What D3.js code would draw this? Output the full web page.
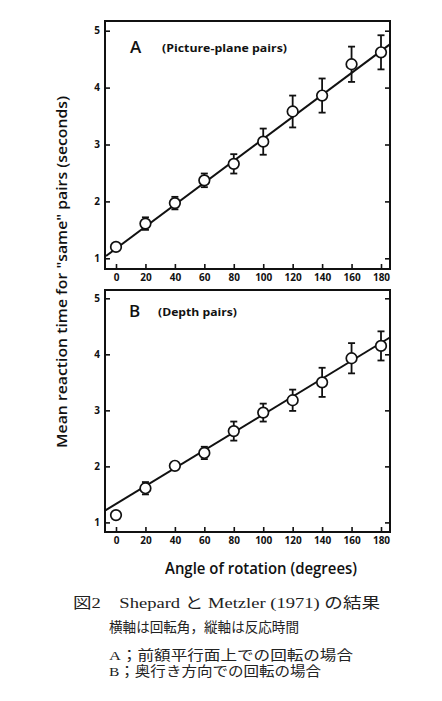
<!DOCTYPE html>
<html><head><meta charset="utf-8">
<script src="https://cdn.jsdelivr.net/npm/d3@7"></script>
<style>
html,body{margin:0;padding:0;background:#fff;}
svg{display:block;}
</style></head>
<body>
<svg id="chart" width="442" height="701"></svg>
<script>
// ---- data ----
const angles = [0, 20, 40, 60, 80, 100, 120, 140, 160, 180];
const meanA = [1.20, 1.61, 1.97, 2.37, 2.66, 3.05, 3.58, 3.86, 4.41, 4.62];
const errA  = [0.00, 0.11, 0.11, 0.12, 0.17, 0.23, 0.28, 0.30, 0.31, 0.30];
const meanB = [1.13, 1.61, 2.01, 2.24, 2.63, 2.96, 3.18, 3.50, 3.93, 4.15];
const errB  = [0.00, 0.11, 0.00, 0.11, 0.17, 0.16, 0.19, 0.26, 0.27, 0.26];
// fitted straight lines: endpoints (angle, seconds) where they meet the frame
const fitA = [[-6.8, 1.04], [186, 4.76]];
const fitB = [[-7.5, 1.21], [186, 4.30]];
const xTicks = [0, 20, 40, 60, 80, 100, 120, 140, 160, 180];
const yTicks = [1, 2, 3, 4, 5];
const panelLetters = ["A", "B"];
const panelNames = ["(Picture-plane pairs)", "(Depth pairs)"];
const yTitle = 'Mean reaction time for "same" pairs (seconds)';
const xTitle = "Angle of rotation (degrees)";
const captionLines = [
  "図2　Shepard と Metzler (1971) の結果",
  "横軸は回転角，縦軸は反応時間",
  "A；前額平行面上での回転の場合",
  "B；奥行き方向での回転の場合"
];

const svg = d3.select("#chart");
const ink = "#111";
const frameL = 105, frameR = 390;

const x = d3.scaleLinear().domain([0, 180]).range([116, 381]);

const panels = [
  {mean: meanA, err: errA, fit: fitA, top: 21, bottom: 269, y5: 30.7, y1: 258.3,
   letter: panelLetters[0], name: panelNames[0], nameLen: 125, labX: 130, labY: 53, nameX: 162},
  {mean: meanB, err: errB, fit: fitB, top: 290, bottom: 532, y5: 298.3, y1: 522.4,
   letter: panelLetters[1], name: panelNames[1], nameLen: 79, labX: 129, labY: 317, nameX: 158}
];

panels.forEach(p => {
  const y = d3.scaleLinear().domain([1, 5]).range([p.y1, p.y5]);
  const g = svg.append("g");

  // frame
  g.append("rect").attr("x", frameL).attr("y", p.top)
    .attr("width", frameR - frameL).attr("height", p.bottom - p.top)
    .attr("fill", "none").attr("stroke", ink).attr("stroke-width", 2);

  // left axis (ticks inward)
  const la = g.append("g").attr("transform", `translate(${frameL},0)`)
    .call(d3.axisLeft(y).tickValues(yTicks).tickSize(-5).tickPadding(5).tickFormat(d3.format("d")));
  // right axis ticks
  const ra = g.append("g").attr("transform", `translate(${frameR},0)`)
    .call(d3.axisRight(y).tickValues(yTicks).tickSize(-5).tickFormat(""));
  // bottom axis
  const ba = g.append("g").attr("transform", `translate(0,${p.bottom})`)
    .call(d3.axisBottom(x).tickValues(xTicks).tickSize(-5).tickPadding(5).tickFormat(d3.format("d")));

  [la, ra, ba].forEach(a => {
    a.select(".domain").remove();
    a.selectAll(".tick line").attr("stroke", ink).attr("stroke-width", 1.6);
    a.selectAll(".tick text").attr("fill", ink)
      .style("font-family", "'Open Sans', sans-serif").style("font-weight", 700).style("font-size", "10px");
  });

  // fitted line
  g.append("path")
    .datum(p.fit)
    .attr("d", d3.line().x(d => x(d[0])).y(d => y(d[1])))
    .attr("fill", "none").attr("stroke", ink).attr("stroke-width", 2);

  const pts = angles.map((a, i) => ({a, m: p.mean[i], e: p.err[i]}));

  // error bars
  const eb = g.append("g").selectAll("g").data(pts.filter(d => d.e > 0)).join("g");
  eb.append("line")
    .attr("x1", d => x(d.a)).attr("x2", d => x(d.a))
    .attr("y1", d => y(d.m + d.e)).attr("y2", d => y(d.m - d.e))
    .attr("stroke", ink).attr("stroke-width", 1.8);
  eb.append("line")
    .attr("x1", d => x(d.a) - 3.5).attr("x2", d => x(d.a) + 3.5)
    .attr("y1", d => y(d.m + d.e)).attr("y2", d => y(d.m + d.e))
    .attr("stroke", ink).attr("stroke-width", 1.8);
  eb.append("line")
    .attr("x1", d => x(d.a) - 3.5).attr("x2", d => x(d.a) + 3.5)
    .attr("y1", d => y(d.m - d.e)).attr("y2", d => y(d.m - d.e))
    .attr("stroke", ink).attr("stroke-width", 1.8);

  // circles
  g.append("g").selectAll("circle").data(pts).join("circle")
    .attr("cx", d => x(d.a)).attr("cy", d => y(d.m)).attr("r", 5.3)
    .attr("fill", "#fff").attr("stroke", ink).attr("stroke-width", 1.7);

  // panel labels
  g.append("text").attr("x", p.labX).attr("y", p.labY).text(p.letter)
    .attr("fill", ink).style("font-family", "'Open Sans', sans-serif")
    .style("font-size", "17px").style("font-weight", 600);
  g.append("text").attr("x", p.nameX).attr("y", p.labY - 1.5).text(p.name)
    .attr("fill", ink).style("font-family", "'Open Sans', sans-serif")
    .style("font-size", "11px").style("font-weight", 700)
    .attr("textLength", p.nameLen).attr("lengthAdjust", "spacingAndGlyphs");
});

// axis titles
svg.append("text")
  .attr("transform", "translate(67,272) rotate(-90)")
  .attr("text-anchor", "middle")
  .attr("fill", ink)
  .style("font-family", "'Open Sans', sans-serif").style("font-size", "15px").style("font-weight", 600)
  .attr("textLength", 352).attr("lengthAdjust", "spacingAndGlyphs")
  .text(yTitle);

svg.append("text")
  .attr("x", 261).attr("y", 574)
  .attr("text-anchor", "middle")
  .attr("fill", ink)
  .style("font-family", "'Open Sans', sans-serif").style("font-size", "16px").style("font-weight", 600)
  .attr("textLength", 192).attr("lengthAdjust", "spacingAndGlyphs")
  .text(xTitle);

// caption
const capSpec = [
  {x: 73, y: 608, size: 15, len: 307},
  {x: 109, y: 632, size: 13.5, len: 190},
  {x: 109, y: 660, size: 13.5, len: 244},
  {x: 109, y: 676, size: 13.5, len: 212}
];
captionLines.forEach((t, i) => {
  svg.append("text")
    .attr("x", capSpec[i].x).attr("y", capSpec[i].y)
    .attr("fill", "#222")
    .style("font-family", "'Liberation Serif', 'Noto Sans CJK JP', serif")
    .style("font-size", capSpec[i].size + "px")
    .attr("textLength", capSpec[i].len).attr("lengthAdjust", "spacingAndGlyphs")
    .text(t);
});
</script>
</body></html>
